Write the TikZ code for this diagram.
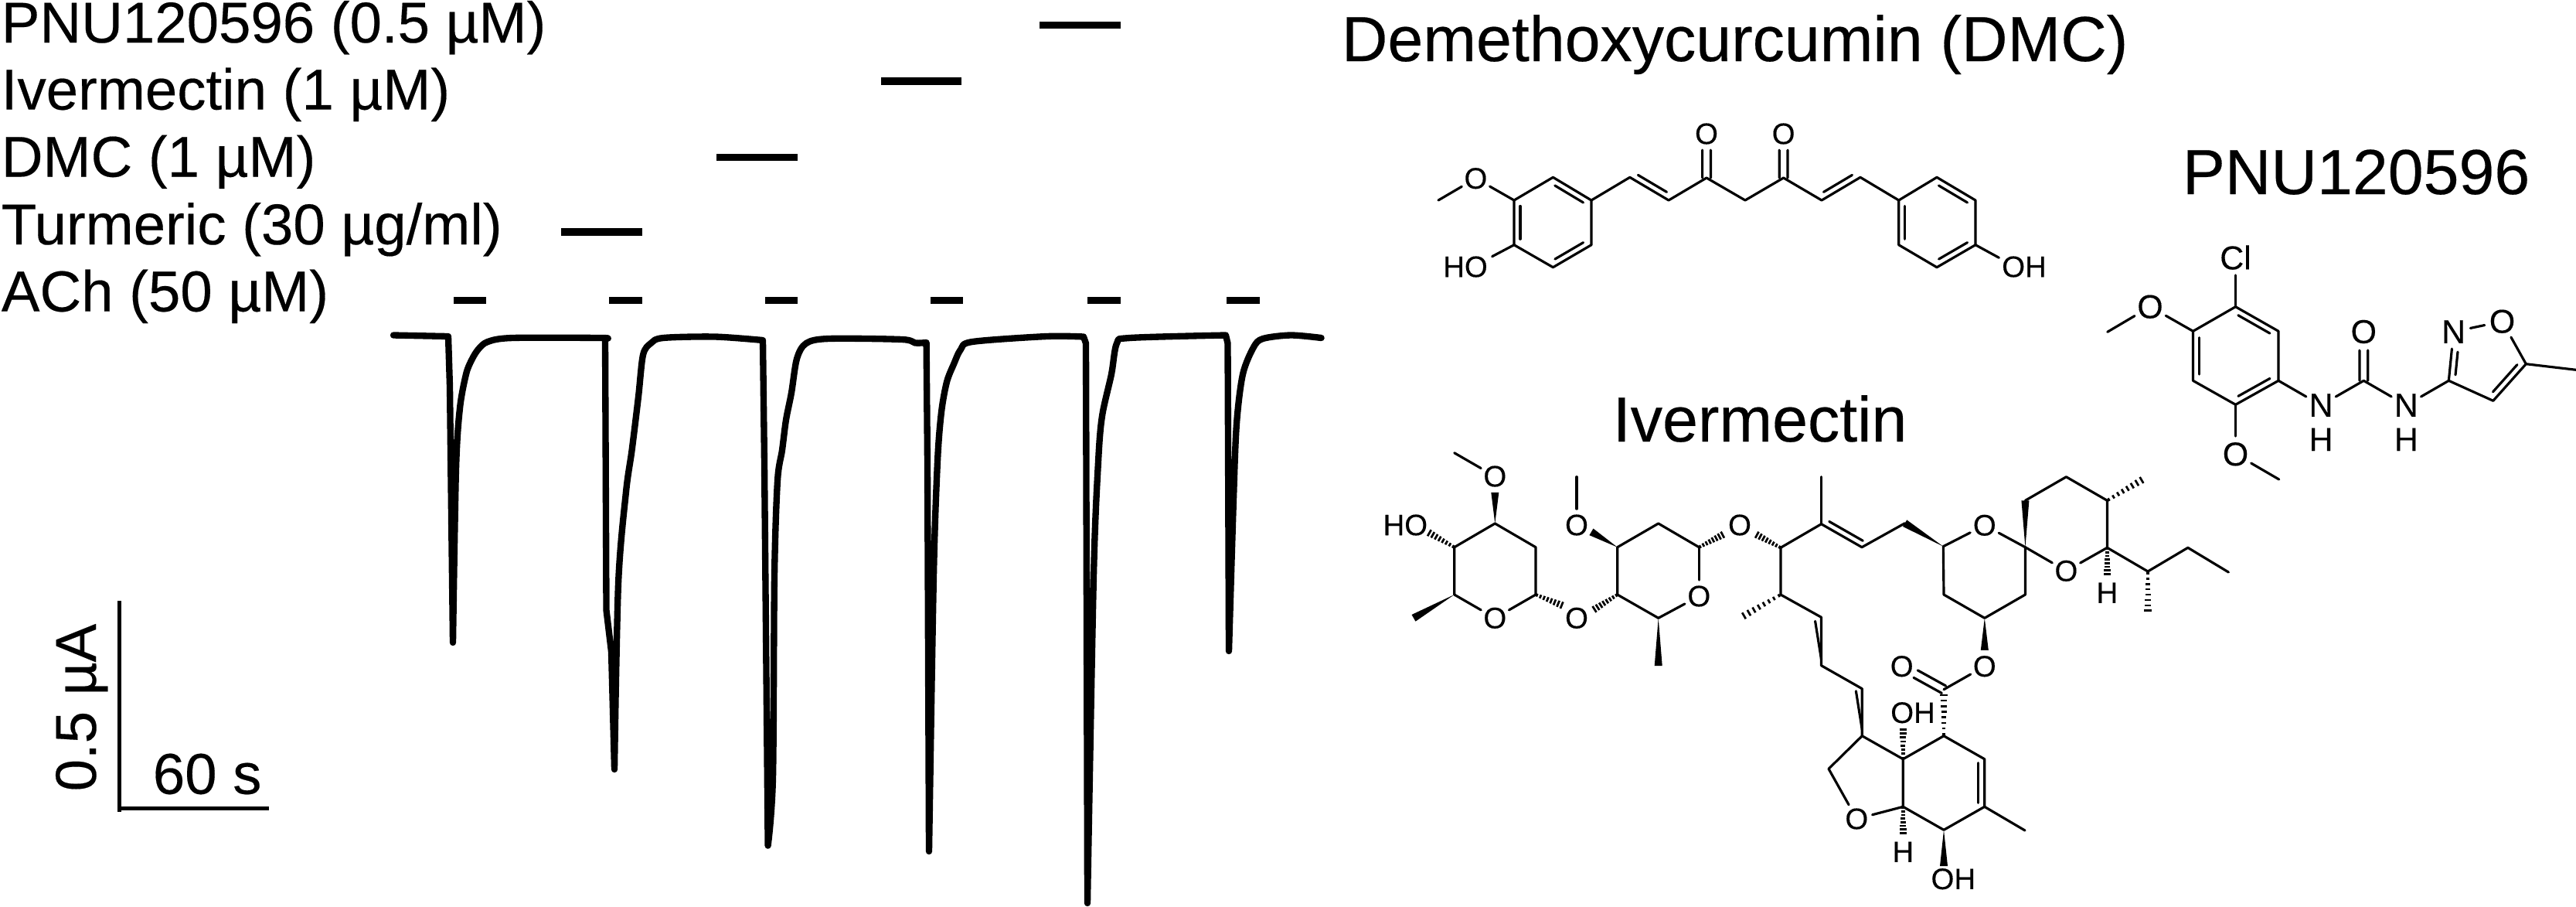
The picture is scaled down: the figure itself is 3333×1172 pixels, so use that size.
\documentclass[tikz,border=0pt]{standalone}
\usepackage{fontspec}
\setmainfont{Liberation Sans}[FakeBold=0.25]
\newfontfamily\plainf{Liberation Sans}
\usetikzlibrary{calc}
\newcommand{\hashb}[2]{\foreach \t in {0.04,0.16,...,0.98}{%
  \pgfmathsetmacro{\hw}{0.45+\t*0.75}%
  \coordinate (hp) at ($(#1)!\t!(#2)$);%
  \draw[hashline] ($(hp)!\hw pt!90:(#2)$) -- ($(hp)!\hw pt!-90:(#2)$);}}
\newcommand{\wdgb}[2]{\fill (#1) -- ($(#2)!1.2pt!90:(#1)$) -- ($(#2)!1.2pt!-90:(#1)$) -- cycle;}
\newcommand{\dbl}[5]{\draw[bond] ($(#1)!#4!(#2)!1.9pt!#3:(#2)$) -- ($(#1)!#5!(#2)!1.9pt!#3:(#2)$);}
\newcommand{\cdbl}[3]{\draw[bond] ($(#1)!#3!(#2)!1.3pt!90:(#2)$) -- ($(#2)!1.3pt!-90:(#1)$);
  \draw[bond] ($(#1)!#3!(#2)!1.3pt!-90:(#2)$) -- ($(#2)!1.3pt!90:(#1)$);}
\tikzset{
  lbl/.style={anchor=base west,inner sep=0pt,font=\fontsize{17.86pt}{20pt}\selectfont},
  ttl/.style={anchor=base west,inner sep=0pt,font=\fontsize{19.8pt}{22pt}\selectfont},
  atom/.style={circle,inner sep=0pt,font=\fontsize{9.2pt}{11pt}\selectfont},
  atomb/.style={circle,inner sep=0pt,font=\fontsize{10.3pt}{12pt}\selectfont},
  bond/.style={draw,line width=0.76pt,line join=round,line cap=round},
  hashline/.style={draw,line width=0.65pt},
  bar/.style={line width=2.3pt},
  tracel/.style={line width=2pt,line join=round,line cap=round},
  scalebar/.style={line width=1.2pt}
}
\begin{document}
\begin{tikzpicture}[x=0.24pt,y=-0.24pt]
\useasboundingbox (0,0) rectangle (3333,1172);
% labels
\node[lbl] (lPNU) at (1,55) {PNU120596 (0.5 µM)};
\node[lbl] (lIve) at (1,141.6) {Ivermectin (1 µM)};
\node[lbl] (lDMC) at (1,228.5) {DMC (1 µM)};
\node[lbl] (lTur) at (1,316) {Turmeric (30 µg/ml)};
\node[lbl] (lACh) at (1,402.6) {ACh (50 µM)};
% bars
\draw[bar] (1345,32.5) -- (1450,32.5);
\draw[bar] (1140,105) -- (1244,105);
\draw[bar] (927,203.6) -- (1032,203.6);
\draw[bar] (726,299.7) -- (831,299.7);
\foreach \a/\b in {587/629,788/831,990/1032,1204/1246,1407/1450,1587/1630}
  \draw[bar] (\a,388.4) -- (\b,388.4);
% trace
\draw[tracel] (509,433.5) -- (580,435) -- (582,500) -- (586,831)
  -- plot[smooth,tension=.5] coordinates {(586,831) (590,607) (595,528) (603,484) (610,466) (618.6,452) (631,442) (663,437) (778,437) (783,438)}
  -- (784.5,789) -- (791,843) -- (795,995)
  -- plot[smooth,tension=.5] coordinates {(795,995) (800,755) (810,636) (817.6,582) (826,513) (832,459) (842,444) (858,437) (925,435.5) (987,440)}
  -- (989,600) -- (993.6,1093.6)
  -- plot[smooth,tension=.5] coordinates {(993.6,1093.6) (1000,1006) (1002,745) (1006,622) (1012,582) (1017,543) (1024,508) (1031,464) (1043,444) (1072,438) (1167,439) (1184,443.5) (1198.6,443)}
  -- (1200,600) -- (1202,1101)
  -- plot[smooth,tension=.5] coordinates {(1202,1101) (1208,745) (1213,597) (1218,533) (1225,494) (1234,471) (1243,452) (1258,442) (1354,435) (1402,435.5)}
  -- (1405,444) -- (1407,1168)
  -- plot[smooth,tension=.5] coordinates {(1407,1168) (1415,745) (1421,597) (1426,538) (1438,484) (1445,444) (1462,437) (1586,433.5)}
  -- (1588.5,444) -- (1590,842)
  -- plot[smooth,tension=.5] coordinates {(1590,842) (1596,646) (1600,548) (1608,484) (1622,449) (1634,438) (1670,433.5) (1709.6,437)};
% scale bar
\coordinate (sbT) at (154,777);
\coordinate (sbC) at (154,1045);
\coordinate (sbR) at (348,1045);
\draw[scalebar] (sbT) -- (154,1050);
\draw[scalebar] (sbC) -- (sbR);
\node[lbl] (sT) at (197,1026.6) {60 s};
\node[lbl,anchor=base,rotate=90] (sI) at (124,915) {0.5 µA};
% titles
\node[ttl] (tDMC) at (1735,79) {Demethoxycurcumin (DMC)};
\node[ttl] (tPNU) at (2823,251) {PNU120596};
\node[ttl] (tIve) at (2086,571) {Ivermectin};
% ---------- Curcuminoid
\foreach \n/\x/\y in {a1/1959/259,a2/2009.4/229.3,a3/2059/259,a4/2059/316.7,a5/2009.4/345.7,a6/1959/316.7,
  c1/2108.8/229.3,c2/2159/259,c3/2208/230,c4/2258/259,c5/2307.6/230,c6/2357/259,c7/2407/229.3,
  b1/2456.7/259,b2/2506/229.3,b3/2556/259,b4/2556/316.7,b5/2506/345.7,b6/2456.7/316.7,
  cme/1861/259,cHOe/1930.6/331.7,cOHe/2586.4/333.3}
  \coordinate (\n) at (\x,\y);
\node[atom] (cO1) at (1909.4,230.7) {O};
\node[atom] (cO2) at (2208,173) {O};
\node[atom] (cO3) at (2307.6,173) {O};
\node[atom,rectangle] (cHO) at (1896,345) {HO};
\node[atom,rectangle] (cOH) at (2619,345) {OH};
\draw[bond] (a1)--(a2)--(a3)--(a4)--(a5)--(a6)--cycle;
\draw[bond] (b1)--(b2)--(b3)--(b4)--(b5)--(b6)--cycle;
\draw[bond] (a3)--(c1)--(c2)--(c3)--(c4)--(c5)--(c6)--(c7)--(b1);
\draw[bond] (cme)--(cO1);
\draw[bond] (cO1)--(a1);
\draw[bond] (a6)--(cHOe);
\draw[bond] (b4)--(cOHe);
\foreach \p/\q in {a2/a3,a4/a5,a6/a1,b2/b3,b4/b5,b6/b1} \dbl{\p}{\q}{-90}{.13}{.87};
\dbl{c1}{c2}{90}{.13}{.87}
\dbl{c6}{c7}{90}{.13}{.87}
\cdbl{cO2}{c3}{.37}
\cdbl{cO3}{c5}{.37}
% ---------- PNU120596
\foreach \n/\x/\y in {p1/2892.5/396.7,p2/2948/428.3,p3/2948/492.3,p4/2892.5/523.3,p5/2837.5/492.3,p6/2837.5/428.3,
  pme1/2726.7/429.3,pme2/2948.7/620,pu/3058.3/492.3,pi3/3168.3/492.3,pi5/3268.3/470.7,pi4/3225.8/518.3,pme3/3333/478.3}
  \coordinate (\n) at (\x,\y);
\node[atomb,rectangle,inner sep=1.5pt] (pCl) at (2892.5,333) {Cl};
\node[atomb] (pO1) at (2782,396.7) {O};
\node[atomb] (pO2) at (2892.5,587.3) {O};
\node[atomb] (pO3) at (3058.3,429) {O};
\node[atomb] (pN1) at (3003,524) {N};
\node[atomb] (pH1) at (3003,568.3) {H};
\node[atomb] (pN2) at (3113.3,524) {N};
\node[atomb] (pH2) at (3113.3,568.3) {H};
\node[atomb] (pN3) at (3174.6,429) {N};
\node[atomb] (pO4) at (3237.5,415.7) {O};
\draw[bond] (p1)--(p2)--(p3)--(p4)--(p5)--(p6)--cycle;
\draw[bond] (pCl)--(p1);
\draw[bond] (pme1)--(pO1);
\draw[bond] (pO1)--(p6);
\draw[bond] (p4)--(pO2);
\draw[bond] (pO2)--(pme2);
\draw[bond] (p3)--(pN1);
\draw[bond] (pN1)--(pu);
\draw[bond] (pu)--(pN2);
\draw[bond] (pN2)--(pi3);
\draw[bond] (pi3)--(pN3);
\draw[bond] (pN3)--(pO4);
\draw[bond] (pO4)--(pi5);
\draw[bond] (pi5)--(pi4)--(pi3);
\draw[bond] (pi5)--(pme3);
\foreach \p/\q in {p1/p2,p3/p4,p5/p6} \dbl{\p}{\q}{-90}{.13}{.87};
\dbl{pi3}{pN3}{-90}{.13}{.6}
\dbl{pi5}{pi4}{-90}{.13}{.87}
\cdbl{pO3}{pu}{.38}
% ---------- Ivermectin
\foreach \n/\x/\y in {
 s1/1987/769,s2/1987/707.7,s3/1934.3/677,s4/1881.7/707.7,s5/1881.7/769,s6/1829/799.3,s7/1881.7/585.7,
 t1/2092.7/769,t2/2092.7/707.7,t3/2145.7/677,t4/2198.3/707.7,t5/2145.7/799.3,t6/2145.7/861,t7/2040/616.7,
 u1/2303.9/708.3,u2/2356.5/677.7,u3/2356.5/616.7,u4/2409/707.7,u5/2464.6/676.7,u6/2514.3/706.7,
 v1/2620.4/707.7,v2/2620.4/769,v3/2567.8/799.3,v4/2515/769,
 w1/2620.4/647.3,w2/2673.4/616.7,w3/2726.4/647.3,w4/2726.4/708.3,w5/2777/617.3,
 w6/2779/739,w7/2830.8/708.3,w8/2883.4/740,w9/2779/796.7,
 d1/2303.9/769,d2/2250/800,d3/2356.5/798.3,d4/2356.5/860.7,d5/2409.3/890.7,d6/2409.3/951.7,
 e1/2462.3/981.7,e2/2462.3/1043.3,e3/2366/994.3,
 f1/2515/951.7,f2/2515/891.7,f3/2567.7/981.7,f4/2567.7/1043.3,f5/2515/1073.3,f6/2620/1074,
 ivHOe/1845/686.7,ivOHe/2462.3/938,ivOHf/2515/1120}
  \coordinate (\n) at (\x,\y);
\node[atom] (iO1) at (1934.3,799.3) {O};
\node[atom] (iO2) at (1934.3,616) {O};
\node[atom] (iO3) at (2040,799.3) {O};
\node[atom] (iO4) at (2198.3,771) {O};
\node[atom] (iO5) at (2040,679) {O};
\node[atom] (iO6) at (2251,679) {O};
\node[atom] (iO7) at (2567.8,679.3) {O};
\node[atom] (iO8) at (2673.4,738.3) {O};
\node[atom] (iO9) at (2567.8,861.7) {O};
\node[atom] (iO10) at (2460.7,861.7) {O};
\node[atom] (iO11) at (2402.3,1059) {O};
\node[atom] (iH1) at (2726.4,766.7) {H};
\node[atom] (iH2) at (2462.3,1101.7) {H};
\node[atom,rectangle] (iHO) at (1818.3,679) {HO};
\node[atom,rectangle] (iOH1) at (2475,921.7) {OH};
\node[atom,rectangle] (iOH2) at (2527.3,1136.7) {OH};
% sugar 1
\draw[bond] (s5)--(s4)--(s3)--(s2)--(s1);
\draw[bond] (s1)--(iO1);
\draw[bond] (iO1)--(s5);
\draw[bond] (s7)--(iO2);
\wdgb{s3}{iO2.south}
\wdgb{s5}{s6}
\hashb{s4}{ivHOe}
\hashb{s1}{iO3.north west}
% sugar 2
\draw[bond] (t5)--(t1)--(t2)--(t3)--(t4);
\draw[bond] (t4)--(iO4);
\draw[bond] (iO4)--(t5);
\draw[bond] (t7)--(iO5);
\wdgb{t2}{iO5.335}
\wdgb{t5}{t6}
\hashb{t1}{iO3.25}
\hashb{t4}{iO6.210}
% chain
\hashb{u1}{iO6.330}
\draw[bond] (u1)--(u2)--(u4)--(u5);
\draw[bond] (u2)--(u3);
\dbl{u2}{u4}{90}{.12}{.95}
\wdgb{u6}{u5}
\draw[bond] (u6)--(iO7);
\draw[bond] (iO7)--(v1);
\draw[bond] (v1)--(v2)--(v3)--(v4)--(u6);
\draw[bond] (v1)--(iO8);
\draw[bond] (iO8)--(w4);
\wdgb{v1}{w1}
\draw[bond] (w1)--(w2)--(w3)--(w4)--(w6)--(w7)--(w8);
\hashb{w3}{w5}
\hashb{w4}{iH1.north}
\hashb{w6}{w9}
\draw[bond] (u1)--(d1)--(d3)--(d4)--(d5)--(d6)--(e1)--(e2);
\hashb{d1}{d2}
\dbl{d3}{d4}{-90}{.08}{1}
\dbl{d5}{d6}{-90}{.05}{1}
% lower rings
\draw[bond] (d6)--(e3);
\draw[bond] (e3)--(iO11);
\draw[bond] (iO11)--(e2);
\draw[bond] (e1)--(f1);
\draw[bond] (f1)--(f3)--(f4)--(f5)--(e2);
\draw[bond] (f4)--(f6);
\dbl{f3}{f4}{-90}{.08}{.92}
\hashb{e1}{ivOHe}
\hashb{e2}{iH2.north}
\hashb{f1}{f2}
\wdgb{f5}{ivOHf}
\wdgb{v3}{iO9.north}
\draw[bond] (f2)--(iO9);
\cdbl{iO10}{f2}{.33}
\end{tikzpicture}
\end{document}
